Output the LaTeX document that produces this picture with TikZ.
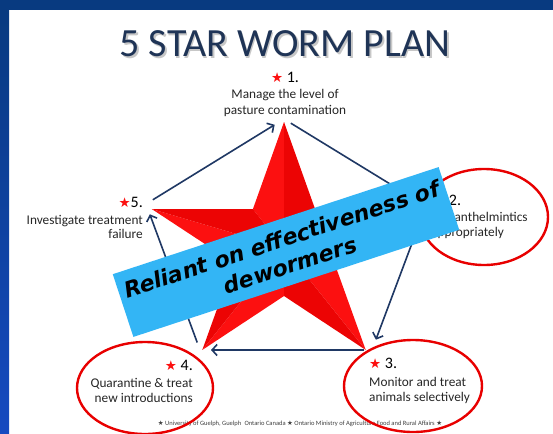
\documentclass[tikz,border=0pt]{standalone}
\usepackage{fontspec}
\setmainfont{Carlito}
\newfontfamily\symbfont{DejaVu Sans}
\newfontfamily\comicfont{DejaVu Sans}
\usetikzlibrary{arrows.meta,positioning}
\definecolor{SlideBlue}{RGB}{8,58,128}
\definecolor{SlideBlueLight}{RGB}{22,74,192}
\definecolor{TitleNavy}{RGB}{31,52,86}
\definecolor{Navy}{RGB}{31,56,100}
\definecolor{StarRed}{RGB}{252,16,16}
\definecolor{StarDark}{RGB}{236,4,4}
\definecolor{RingRed}{RGB}{232,0,0}
\definecolor{BannerBlue}{RGB}{51,181,245}
\newcommand{\redstar}{{\symbfont\fontsize{13.5}{13.5}\selectfont\color{StarRed}★}}

\begin{document}
\begin{tikzpicture}[x=1pt,y=-1pt,
       >={Straight Barb[length=5pt,width=11pt]},
       cycle/.style={->,Navy,line width=1.6pt,shorten <=8pt,shorten >=11pt},
       ring/.style={draw=RingRed,line width=2.4pt},
       steplabel/.style={text=black!85,inner sep=0pt,font=\fontsize{13.3}{15}\selectfont},
       stepnum/.style={text=black,inner sep=0pt,font=\fontsize{16}{18}\selectfont}]
	\useasboundingbox (0,0) rectangle (553,433);
	%% Slide background
	\fill[white] (0,0) rectangle (553,433);
	\fill[SlideBlue] (0,0) rectangle (553,10);
	\shade[top color=SlideBlue,bottom color=SlideBlueLight] (0,10) rectangle (9,433);

	%% Title
	\node[font=\fontsize{40}{40}\selectfont,text=black!22,anchor=base] (title_shadow) at (286.5,58.5) {5 STAR WORM PLAN};
	\node[font=\fontsize{40}{40}\selectfont,text=TitleNavy,anchor=base] (title) at (285,57) {5 STAR WORM PLAN};

	%% Star
	\begin{scope}[shift={(284,248)},x=1.103pt,y=1pt]
		\foreach \a in {90,162,234,306,18} {
			\fill[StarRed] (0,0) -- (\a:126) -- (\a+36:48) -- cycle;
			\fill[StarDark] (0,0) -- (\a:126) -- (\a-36:48) -- cycle;
		}
	\end{scope}

	%% Corners of the cycle
	\coordinate (v1) at (284,119);
	\coordinate (v2) at (426,206);
	\coordinate (v3) at (372,350);
	\coordinate (v4) at (200,350);
	\coordinate (v5) at (146,204);
	\draw[cycle] (v5) -- (v1);
	\draw[cycle] (v1) -- (v2);
	\draw[cycle] (v2) -- (v3);
	\draw[cycle] (v3) -- (v4);
	\draw[cycle] (v4) -- (v5);

	%% Steps (base of a two-line node = its last line)
	\node[stepnum,anchor=base] (h1) at (285,83) {\redstar\ 1.};
	\node[steplabel,align=center,anchor=base,font=\fontsize{13.3}{16}\selectfont] (t1) at (285,114) {Manage the level of\\pasture contamination};
	\node[stepnum,anchor=base west] (h2) at (433,205) {\redstar\ 2.};
	\node[steplabel,align=left,anchor=base west] (t2) at (431,236) {Use anthelmintics\\appropriately};
	\node[stepnum,anchor=base west] (h3) at (369,368) {\redstar\ 3.};
	\node[steplabel,align=left,anchor=base west] (t3) at (369,401) {Monitor and treat\\animals selectively};
	\node[stepnum,anchor=base east] (h4) at (193,370) {\redstar\ 4.};
	\node[steplabel,align=right,anchor=base east] (t4) at (193,402) {Quarantine \& treat\\new introductions};
	\node[stepnum,anchor=base east] (h5) at (143,207) {\redstar5.};
	\node[steplabel,align=right,anchor=base east,font=\fontsize{13.3}{14}\selectfont] (t5) at (143,238) {Investigate treatment\\failure};

	%% Credits
	\node[font=\fontsize{6.5}{7}\selectfont,text=black!75,anchor=base] (credits) at (300,425)
	     {{\symbfont ★} University of Guelph, Guelph\enspace Ontario Canada {\symbfont ★} Ontario Ministry of Agriculture Food and Rural Affairs {\symbfont ★}};

	%% Circled steps
	\draw[ring] (484,217) ellipse [x radius=64, y radius=48];
	\draw[ring] (413,386) ellipse [x radius=69, y radius=46];
	\draw[ring] (145,388) ellipse [x radius=68, y radius=46];

	%% Banner
	\node[fill=BannerBlue,rotate=18.2,minimum width=343pt,minimum height=66pt,inner sep=0pt,align=center,
	      font=\comicfont\bfseries\itshape\fontsize{22}{27}\selectfont] (banner) at (286,252)
	     {Reliant on effectiveness of\\dewormers};
\end{tikzpicture}
\end{document}
